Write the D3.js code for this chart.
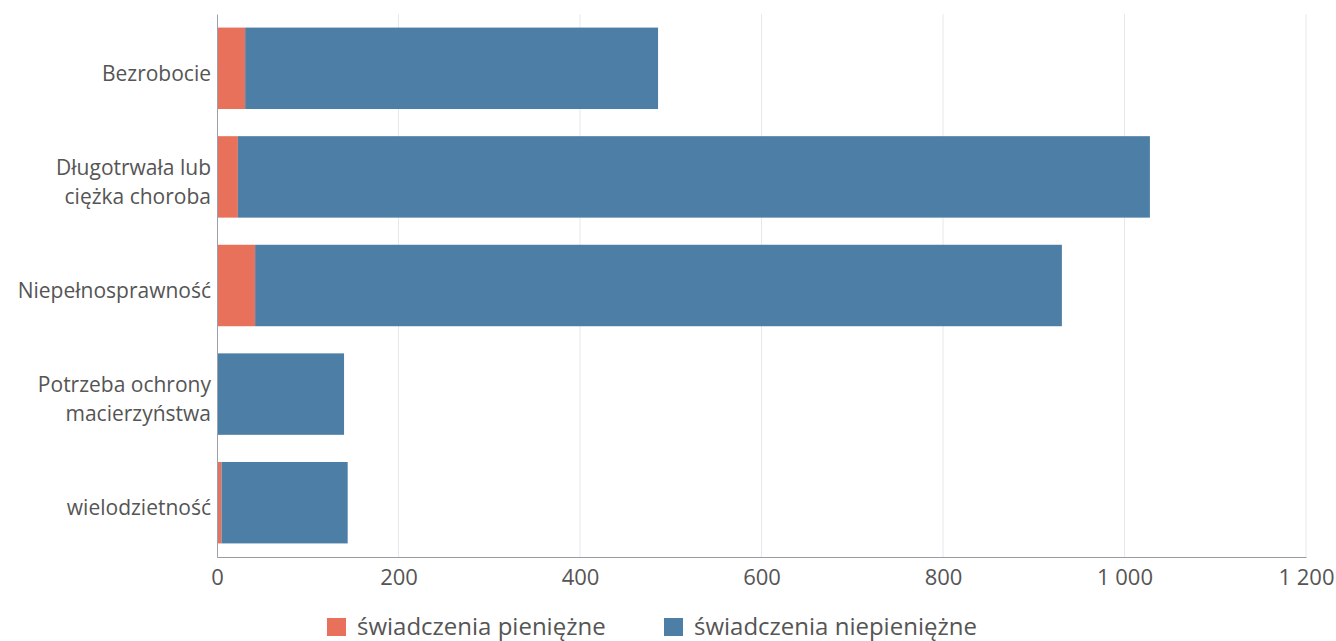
<!DOCTYPE html>
<html>
<head>
<meta charset="utf-8">
<script src="https://cdn.jsdelivr.net/npm/d3@7"></script>
<style>
  html, body { margin: 0; padding: 0; background: #fff; }
  svg { display: block; font-family: "Open Sans", sans-serif; }
</style>
</head>
<body>
<svg id="chart" width="1336" height="641"></svg>
<script>
const categories = [
  ["Bezrobocie"],
  ["Długotrwała lub", "ciężka choroba"],
  ["Niepełnosprawność"],
  ["Potrzeba ochrony", "macierzyństwa"],
  ["wielodzietność"]
];
const cashValues = [31, 23, 42, 0, 5];            // świadczenia pieniężne
const nonCashValues = [455, 1005, 889, 140, 139]; // świadczenia niepieniężne
const seriesNames = ["świadczenia pieniężne", "świadczenia niepieniężne"];
const seriesColors = ["#e8715b", "#4d7ea5"];
const xTicks = [0, 200, 400, 600, 800, 1000, 1200];

const W = 1336, H = 641;
const margin = { top: 14, right: 30, bottom: 84, left: 217 };
const svg = d3.select("#chart");

const keys = categories.map(c => c.join(" "));
const x = d3.scaleLinear().domain([0, 1200]).range([margin.left, W - margin.right]);
const y = d3.scaleBand().domain(keys).range([margin.top, H - margin.bottom])
  .paddingInner(0.25).paddingOuter(0.125);

const fmt = v => d3.format(",")(v).replace(/,/g, " ");

// gridlines
svg.append("g").selectAll("line").data(xTicks.filter(t => t > 0)).join("line")
  .attr("x1", d => x(d)).attr("x2", d => x(d))
  .attr("y1", margin.top).attr("y2", H - margin.bottom)
  .attr("stroke", "#e8e8ec").attr("stroke-width", 1);

// stacked bars
const rows = keys.map((k, i) => ({ key: k, cash: cashValues[i], non: nonCashValues[i] }));
const stack = d3.stack().keys(["cash", "non"])(rows);
svg.append("g").selectAll("g").data(stack).join("g")
  .attr("fill", (d, i) => seriesColors[i])
  .selectAll("rect").data(d => d).join("rect")
  .attr("x", d => x(d[0]))
  .attr("width", d => Math.max(0, x(d[1]) - x(d[0])))
  .attr("y", d => y(d.data.key))
  .attr("height", y.bandwidth());

// bottom axis
const xAxis = d3.axisBottom(x).tickValues(xTicks).tickFormat(fmt).tickSize(0).tickPadding(12);
const gx = svg.append("g").attr("transform", `translate(0,${H - margin.bottom})`).call(xAxis);
gx.select(".domain").attr("stroke", "#9a9aa0");
gx.selectAll("text").attr("font-size", 22).attr("fill", "#555").attr("font-family", "Open Sans");

// left axis
const yAxis = d3.axisLeft(y).tickSize(0).tickFormat("");
const gy = svg.append("g").attr("transform", `translate(${margin.left},0)`).call(yAxis);
gy.select(".domain").attr("stroke", "#9aa0b0");

// category labels
const labels = svg.append("g").attr("font-size", 21).attr("fill", "#555").attr("text-anchor", "end");
categories.forEach((lines, i) => {
  const cy = y(keys[i]) + y.bandwidth() / 2 + 5;
  const lh = 29;
  lines.forEach((ln, j) => {
    labels.append("text").attr("x", margin.left - 6)
      .attr("y", cy + (j - (lines.length - 1) / 2) * lh)
      .attr("dy", "0.35em").text(ln);
  });
});

// legend
const legend = svg.append("g").attr("font-size", 24).attr("fill", "#555");
const legendX = [327, 664];
seriesNames.forEach((name, i) => {
  const g = legend.append("g").attr("transform", `translate(${legendX[i]},618)`);
  g.append("rect").attr("width", 19).attr("height", 18).attr("fill", seriesColors[i]);
  g.append("text").attr("x", 30).attr("y", 9).attr("dy", "0.35em").text(name);
});
</script>
</body>
</html>
